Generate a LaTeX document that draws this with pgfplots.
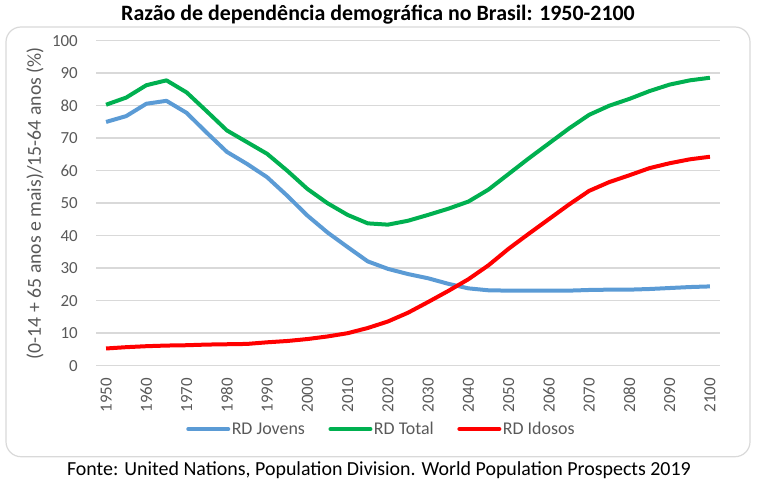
\documentclass[border=0pt]{standalone}
\usepackage{pgfplots}
\pgfplotsset{compat=1.18}
\usepackage{pgfplotstable}
\usepackage{fontspec}
\setmainfont{Carlito}
\definecolor{cblue}{HTML}{5B9BD5}
\definecolor{cgreen}{HTML}{00B050}
\definecolor{cred}{HTML}{FF0000}
\definecolor{cgrid}{HTML}{D9D9D9}
\definecolor{ctext}{HTML}{595959}
\pgfplotstableread{
year jov tot ido
1950 75.0 80.3 5.3
1955 76.8 82.5 5.7
1960 80.6 86.3 6.0
1965 81.5 87.8 6.2
1970 77.8 84.1 6.3
1975 71.7 78.3 6.5
1980 65.8 72.4 6.6
1985 62.1 68.8 6.7
1990 58.0 65.2 7.2
1995 52.3 60.0 7.6
2000 46.2 54.4 8.2
2005 41.0 50.0 9.0
2010 36.5 46.4 10.0
2015 32.1 43.8 11.6
2020 29.8 43.4 13.6
2025 28.2 44.6 16.3
2030 26.9 46.4 19.6
2035 25.2 48.3 23.0
2040 23.8 50.5 26.6
2045 23.2 54.2 30.9
2050 23.1 59.0 36.0
2055 23.1 63.8 40.6
2060 23.1 68.4 45.1
2065 23.1 73.0 49.6
2070 23.3 77.2 53.8
2075 23.4 80.0 56.5
2080 23.4 82.1 58.6
2085 23.6 84.5 60.8
2090 23.9 86.5 62.3
2095 24.2 87.8 63.5
2100 24.4 88.6 64.3
}\data
\begin{document}
\begin{tikzpicture}
\path[use as bounding box] (0,0) rectangle (758bp,-487bp);
\draw[color=cgrid, line width=1.2bp, rounded corners=15bp] (6bp,-27bp) rectangle (750bp,-456.7bp);
\node[font=\bfseries\fontsize{22}{24}\selectfont, text=black] at (378bp,-15bp) {Razão de dependência demográfica no Brasil: 1950-2100};
\node[font=\fontsize{20}{23}\selectfont, text=black] at (379bp,-470bp) {Fonte: United Nations, Population Division. World Population Prospects 2019};
\begin{axis}[
  at={(96bp,-365.7bp)}, anchor=south west,
  scale only axis, width=624bp, height=325bp,
  xmin=1947.5, xmax=2102.5, ymin=0, ymax=100,
  xtick={1950,1960,...,2100}, ytick={0,10,...,100},
  axis line style={draw=none},
  major tick length=0pt,
  ymajorgrids, grid style={cgrid, line width=1.5bp},
  /pgf/number format/assume math mode=true,
  /pgf/number format/1000 sep={},
  tick label style={font=\fontsize{17}{20}\selectfont, text=ctext, inner sep=0pt},
  xticklabel style={rotate=90, anchor=east},
  yticklabel style={anchor=east},
  xticklabel shift=12bp,
  yticklabel shift=18bp,
  ylabel={(0-14 + 65 anos e mais)/15-64 anos (\%)},
  every axis y label/.style={at={(axis description cs:-0.0978,0.5)}, rotate=90, anchor=center, font=\fontsize{19.8}{22}\selectfont, text=ctext},
  legend columns=3,
  legend style={at={(axis description cs:0.457,-0.195)}, anchor=center, draw=none, fill=none,
    font=\fontsize{18}{20}\selectfont, text=ctext,
    /tikz/every odd column/.style={column sep=0bp},
    /tikz/every even column/.style={column sep=22bp},
    nodes={inner sep=1.5bp}},
  legend image code/.code={\draw[#1, line cap=round] (0bp,0bp) -- (40bp,0bp);},
  every axis plot/.append style={line width=4bp, line join=round, no marks},
]
\addplot[cblue] table[x=year, y=jov] {\data};
\addlegendentry{RD Jovens}
\addplot[cgreen] table[x=year, y=tot] {\data};
\addlegendentry{RD Total}
\addplot[cred] table[x=year, y=ido] {\data};
\addlegendentry{RD Idosos}
\end{axis}
\end{tikzpicture}
\end{document}
